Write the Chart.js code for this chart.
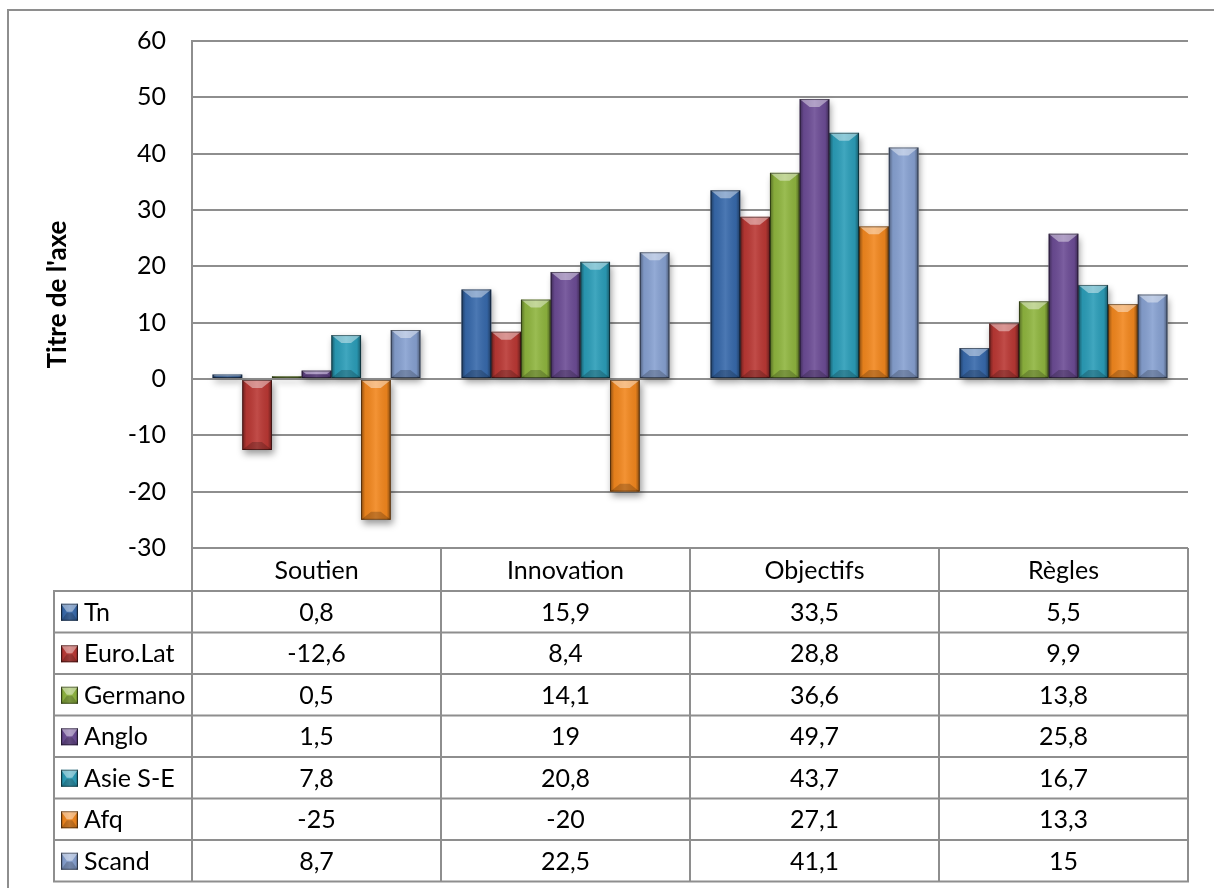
<!DOCTYPE html>
<html>
<head>
<meta charset="utf-8">
<script src="https://cdn.jsdelivr.net/npm/chart.js@4/dist/chart.umd.min.js"></script>
<style>
  html, body { margin: 0; padding: 0; background: #ffffff; }
  #wrap { width: 1214px; height: 888px; }
</style>
</head>
<body>
<div id="wrap"><canvas id="c" width="1214" height="888"></canvas></div>
<script>
// Categories and series
const categories = ['Soutien', 'Innovation', 'Objectifs', 'Règles'];
const seriesNames = ['Tn', 'Euro.Lat', 'Germano', 'Anglo', 'Asie S-E', 'Afq', 'Scand'];
const tn      = [0.8, 15.9, 33.5, 5.5];
const euroLat = [-12.6, 8.4, 28.8, 9.9];
const germano = [0.5, 14.1, 36.6, 13.8];
const anglo   = [1.5, 19, 49.7, 25.8];
const asieSE  = [7.8, 20.8, 43.7, 16.7];
const afq     = [-25, -20, 27.1, 13.3];
const scand   = [8.7, 22.5, 41.1, 15];
const seriesValues = [tn, euroLat, germano, anglo, asieSE, afq, scand];
const seriesColors = ['#3769AB', '#BA3834', '#8FB53F', '#6C4C95', '#2B9DB8', '#F2871E', '#87A1D1'];
const yTicks = [-30, -20, -10, 0, 10, 20, 30, 40, 50, 60];
const axisTitle = "Titre de l'axe";

const FONT = 'Lato, "Open Sans", sans-serif';
const FONT_SIZE = 25;
const LINE = '#8e8e8e';

function frNum(v) { return String(v).replace('.', ','); }

// Bevelled look for a bar rectangle
function bevel(ctx, l, t, w, h) {
  if (w <= 0 || h <= 0) return;
  const r = l + w, b = t + h;
  const g = ctx.createLinearGradient(l, 0, r, 0);
  g.addColorStop(0, 'rgba(0,0,0,0.42)');
  g.addColorStop(0.14, 'rgba(0,0,0,0.06)');
  g.addColorStop(0.5, 'rgba(255,255,255,0.10)');
  g.addColorStop(0.86, 'rgba(0,0,0,0.06)');
  g.addColorStop(1, 'rgba(0,0,0,0.45)');
  ctx.fillStyle = g;
  ctx.fillRect(l, t, w, h);
  const d = Math.min(8, h / 2);
  const ins = Math.min(w * 0.34, d * 1.25);
  // light top face
  ctx.beginPath();
  ctx.moveTo(l, t); ctx.lineTo(r, t); ctx.lineTo(r - ins, t + d); ctx.lineTo(l + ins, t + d); ctx.closePath();
  ctx.fillStyle = 'rgba(255,255,255,0.42)';
  ctx.fill();
  // dark bottom face
  ctx.beginPath();
  ctx.moveTo(l, b); ctx.lineTo(r, b); ctx.lineTo(r - ins, b - d); ctx.lineTo(l + ins, b - d); ctx.closePath();
  ctx.fillStyle = 'rgba(0,0,0,0.2)';
  ctx.fill();
  ctx.strokeStyle = 'rgba(0,0,0,0.45)';
  ctx.lineWidth = 1;
  ctx.strokeRect(l + 0.5, t + 0.5, w - 1, h - 1);
}

function barRect(el) {
  const p = el.getProps(['x', 'y', 'base', 'width'], true);
  const l = p.x - p.width / 2;
  const t = Math.min(p.y, p.base);
  const h = Math.abs(p.base - p.y);
  return { l, t, w: p.width, h };
}

const decorPlugin = {
  id: 'decor',
  beforeDraw(chart) {
    const ctx = chart.ctx;
    ctx.save();
    ctx.strokeStyle = LINE;
    ctx.lineWidth = 2;
    ctx.beginPath();
    ctx.moveTo(8, chart.height + 2);
    ctx.lineTo(8, 10);
    ctx.lineTo(chart.width + 2, 10);
    ctx.stroke();
    ctx.restore();
  },
  beforeDatasetsDraw(chart) {
    const ctx = chart.ctx;
    ctx.save();
    ctx.shadowColor = 'rgba(0,0,0,0.4)';
    ctx.shadowBlur = 7;
    ctx.shadowOffsetX = 2;
    ctx.shadowOffsetY = 4;
    ctx.fillStyle = '#ffffff';
    chart.data.datasets.forEach((ds, i) => {
      chart.getDatasetMeta(i).data.forEach(el => {
        const r = barRect(el);
        if (r.h > 0) ctx.fillRect(r.l, r.t, r.w, r.h);
      });
    });
    ctx.restore();
  },
  afterDatasetsDraw(chart) {
    const ctx = chart.ctx;
    ctx.save();
    chart.data.datasets.forEach((ds, i) => {
      chart.getDatasetMeta(i).data.forEach(el => {
        const r = barRect(el);
        bevel(ctx, r.l, r.t, r.w, r.h);
      });
    });
    ctx.restore();
  },
  afterDraw(chart) {
    const ctx = chart.ctx;
    const area = chart.chartArea;
    const xs = chart.scales.x;
    const n = categories.length;
    const colW = (area.right - area.left) / n;
    const headTop = area.bottom;
    const headBot = headTop + 43;
    const rowH = 41.5;
    const tableBot = headBot + rowH * seriesNames.length;
    const legendLeft = 54;

    ctx.save();
    ctx.strokeStyle = LINE;
    ctx.lineWidth = 2;
    ctx.beginPath();
    for (let i = 0; i <= n; i++) {
      const x = area.left + colW * i;
      ctx.moveTo(x, headTop);
      ctx.lineTo(x, tableBot);
    }
    ctx.moveTo(legendLeft, headBot);
    ctx.lineTo(legendLeft, tableBot);
    for (let r = 0; r <= seriesNames.length; r++) {
      const y = headBot + rowH * r;
      ctx.moveTo(legendLeft - 1, y);
      ctx.lineTo(area.right + 1, y);
    }
    ctx.stroke();

    ctx.fillStyle = '#000000';
    ctx.font = FONT_SIZE + 'px ' + FONT;
    ctx.textAlign = 'center';
    ctx.textBaseline = 'middle';
    categories.forEach((c, i) => {
      ctx.fillText(c, xs.getPixelForValue(i), (headTop + headBot) / 2 + 1);
    });
    seriesNames.forEach((name, s) => {
      const cy = headBot + rowH * s + rowH / 2 + 1;
      seriesValues[s].forEach((v, i) => {
        ctx.textAlign = 'center';
        ctx.fillStyle = '#000000';
        ctx.fillText(frNum(v), xs.getPixelForValue(i), cy);
      });
      // legend key
      ctx.fillStyle = seriesColors[s];
      ctx.fillRect(61, cy - 9, 17, 17);
      bevel(ctx, 61, cy - 9, 17, 17);
      ctx.fillStyle = '#000000';
      ctx.textAlign = 'left';
      ctx.fillText(name, 84, cy);
    });
    ctx.restore();
  }
};

const datasets = seriesNames.map((name, s) => ({
  label: name,
  data: seriesValues[s],
  backgroundColor: seriesColors[s],
  borderWidth: 0,
  barPercentage: 1,
  categoryPercentage: 0.835
}));

new Chart(document.getElementById('c'), {
  type: 'bar',
  data: { labels: categories, datasets },
  options: {
    responsive: false,
    animation: false,
    events: [],
    layout: { padding: { left: 0, right: 26, top: 40, bottom: 340 } },
    plugins: { legend: { display: false }, tooltip: { enabled: false } },
    scales: {
      x: { display: false },
      y: {
        min: -30, max: 60,
        afterBuildTicks(scale) { scale.ticks = yTicks.map(v => ({ value: v })); },
        afterFit(scale) { scale.width = 192; },
        border: { display: true, color: LINE, width: 2 },
        grid: { color: LINE, lineWidth: 2, drawTicks: false },
        ticks: {
          padding: 26,
          color: '#000000',
          font: { family: FONT, size: FONT_SIZE },
          callback: v => String(v)
        },
        title: {
          display: true,
          text: axisTitle,
          color: '#000000',
          font: { family: FONT, size: FONT_SIZE + 1, weight: 'bold' },
          padding: { top: 42, bottom: 0 }
        }
      }
    }
  },
  plugins: [decorPlugin]
});
</script>
</body>
</html>
